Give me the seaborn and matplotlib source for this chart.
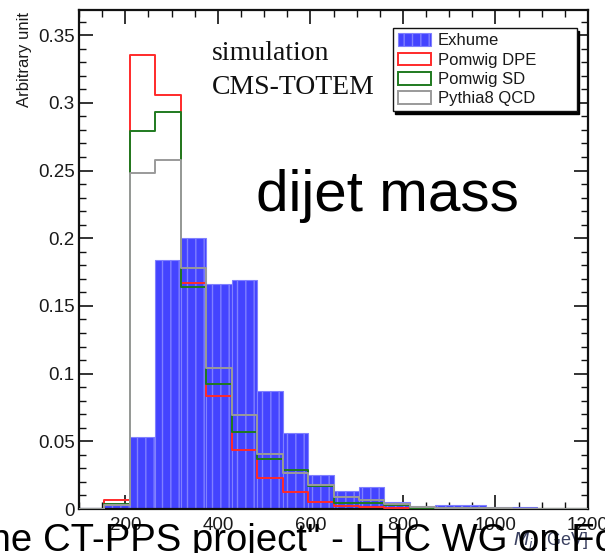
import matplotlib
matplotlib.use("Agg")
import matplotlib.pyplot as plt
from matplotlib.patches import Patch
from matplotlib.ticker import MultipleLocator, FixedLocator, FixedFormatter
import numpy as np
import seaborn as sns

# ---- data ----
bin_edges = [100, 155, 210, 265, 320, 375, 430, 485, 540, 595, 650,
             705, 760, 815, 870, 925, 980, 1035, 1090, 1145, 1200]
exhume = [0.001, 0.003, 0.053, 0.184, 0.200, 0.166, 0.169, 0.087, 0.056, 0.025,
          0.013, 0.0165, 0.0055, 0.0025, 0.003, 0.003, 0.0015, 0.0015, 0.0, 0.0]
pomwig_dpe = [0.0, 0.0066, 0.335, 0.306, 0.167, 0.0837, 0.0436, 0.0227, 0.0123, 0.0055,
              0.0022, 0.0012, 0.0004, 0.0004, 0.0003, 0.0002, 0.0, 0.0, 0.0, 0.0]
pomwig_sd = [0.0, 0.004, 0.279, 0.293, 0.164, 0.0923, 0.0566, 0.0367, 0.0288, 0.017,
             0.0047, 0.0047, 0.003, 0.001, 0.0008, 0.0008, 0.0003, 0.0, 0.0, 0.0]
pythia_qcd = [0.0, 0.003, 0.248, 0.258, 0.178, 0.1044, 0.0694, 0.0406, 0.0268, 0.0175,
              0.0086, 0.0066, 0.0037, 0.0017, 0.001, 0.001, 0.0005, 0.0, 0.0, 0.0]
series_names = ["Exhume", "Pomwig DPE", "Pomwig SD", "Pythia8 QCD"]
x_ticks = [200, 400, 600, 800, 1000, 1200]
x_tick_labels = ["200", "400", "600", "800", "1000", "1200"]
y_ticks = [0, 0.05, 0.1, 0.15, 0.2, 0.25, 0.3, 0.35]
y_tick_labels = ["0", "0.05", "0.1", "0.15", "0.2", "0.25", "0.3", "0.35"]

sns.set_style("ticks")
plt.rcParams["font.family"] = ["Liberation Sans", "DejaVu Sans"]
plt.rcParams["hatch.linewidth"] = 1.0

W, H = 605, 553
fig = plt.figure(figsize=(W / 100, H / 100), dpi=100)
fig.patch.set_facecolor("white")
ax = fig.add_axes([79 / W, 1 - 509 / H, (588 - 79) / W, (509 - 10) / H])
ax.set_facecolor("white")

centers = [(a + b) / 2 for a, b in zip(bin_edges[:-1], bin_edges[1:])]

blue = "#4444ff"
sns.histplot(x=centers, weights=exhume, bins=bin_edges, element="bars", fill=True,
             color=blue, alpha=1, edgecolor="#8080ff", linewidth=0.8, hatch="||",
             ax=ax, zorder=1)
line_cols = ["#ff2a2a", "#1f7a1f", "#9a9a9a"]
for vals, col in zip([pomwig_dpe, pomwig_sd, pythia_qcd], line_cols):
    sns.histplot(x=centers, weights=vals, bins=bin_edges, element="step", fill=False,
                 color=col, linewidth=1.4, ax=ax, zorder=3)

ax.set_xlim(100, 1200)
ax.set_ylim(0, 0.3686)
ax.set_xlabel("")
ax.set_ylabel("")
ax.xaxis.set_major_locator(FixedLocator(x_ticks))
ax.xaxis.set_major_formatter(FixedFormatter(x_tick_labels))
ax.yaxis.set_major_locator(FixedLocator(y_ticks))
ax.yaxis.set_major_formatter(FixedFormatter(y_tick_labels))
ax.xaxis.set_minor_locator(MultipleLocator(50))
ax.yaxis.set_minor_locator(MultipleLocator(0.01))
ax.tick_params(which="both", direction="in", top=True, right=True, color="#111111")
ax.tick_params(which="major", length=10, width=1.2, labelsize=13.5, labelcolor="#1a1a1a")
ax.tick_params(which="minor", length=5, width=1.0)
ax.tick_params(axis="y", pad=3)
ax.tick_params(axis="x", pad=6)
for s in ax.spines.values():
    s.set_visible(True)
    s.set_linewidth(1.6)
    s.set_color("#111111")

# legend
handles = [
    Patch(facecolor=blue, edgecolor="#8080ff", hatch="||", linewidth=0.8),
    Patch(facecolor="white", edgecolor=line_cols[0], linewidth=1.4),
    Patch(facecolor="white", edgecolor=line_cols[1], linewidth=1.4),
    Patch(facecolor="white", edgecolor=line_cols[2], linewidth=1.4),
]
x0 = (392.7 - 79) / 509
x1 = (576.7 - 79) / 509
yt = (509 - 28.3) / 499
leg = ax.legend(handles, series_names, loc="upper left",
                bbox_to_anchor=(x0, yt - 0.2, x1 - x0, 0.2), mode="expand",
                borderaxespad=0, fancybox=False, frameon=True, framealpha=1,
                edgecolor="#111111", facecolor="white",
                shadow={"color": "black", "alpha": 1},
                fontsize=12, handlelength=2.0, handleheight=0.8,
                handletextpad=0.4, labelspacing=0.25, borderpad=0.3)
leg.get_frame().set_linewidth(1.0)
for t in leg.get_texts():
    t.set_color("#1a1a1a")
leg.set_zorder(5)

# texts
fig.text(212 / W, 1 - 60 / H, "simulation", fontsize=20, family="Liberation Serif",
         ha="left", va="baseline", color="#111111")
fig.text(212 / W, 1 - 94 / H, "CMS-TOTEM", fontsize=20, family="Liberation Serif",
         ha="left", va="baseline", color="#111111")
fig.text(256 / W, 1 - 211 / H, "dijet mass", fontsize=42, family="Liberation Sans",
         ha="left", va="baseline", color="black")
fig.text(25 / W, 1 - 12 / H, "Arbitrary unit", fontsize=12, rotation=90,
         ha="center", va="top", color="#1a1a1a")
fig.text(588 / W, 1 - 542 / H, "$M_{jj}$ [GeV]", fontsize=13, ha="right", va="center",
         color="#3a4060", zorder=1)
fig.text(33 / W, 1 - 551 / H, "the", fontsize=27.5, ha="right", va="baseline",
         color="black", zorder=10)
fig.text(43 / W, 1 - 551 / H, "CT-PPS project\" - LHC WG on Forward Physics", fontsize=27.5,
         ha="left", va="baseline", color="black", zorder=10)

fig.savefig("out.png", dpi=100)
